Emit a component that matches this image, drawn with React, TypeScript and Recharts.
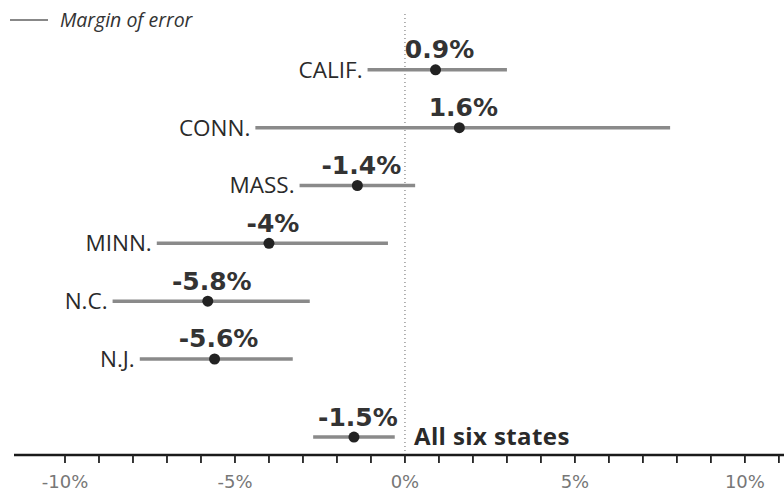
import React from 'react';
import {
  ScatterChart,
  Scatter,
  XAxis,
  YAxis,
  ZAxis,
  ErrorBar,
  LabelList,
  ReferenceLine,
} from 'recharts';

// rows, top to bottom
const states = ['CALIF.', 'CONN.', 'MASS.', 'MINN.', 'N.C.', 'N.J.', 'All six states'];
const values = [0.9, 1.6, -1.4, -4, -5.8, -5.6, -1.5];
const lows = [-1.1, -4.4, -3.1, -7.3, -8.6, -7.8, -2.7];
const highs = [3.0, 7.8, 0.3, -0.5, -2.8, -3.3, -0.3];
const rowPos = [1, 2, 3, 4, 5, 6, 7.35];

const tickValues = [-10, -9, -8, -7, -6, -5, -4, -3, -2, -1, 0, 1, 2, 3, 4, 5, 6, 7, 8, 9, 10, 11];

const points = states.map((name, i) => ({
  name,
  x: values[i],
  y: rowPos[i],
  err: [values[i] - lows[i], highs[i] - values[i]],
}));

// state names sit left of the error bar; the total row sits right of zero
const nameLabels = states.map((name, i) => {
  const total = i === states.length - 1;
  return { name, x: total ? 0 : lows[i], y: rowPos[i], total };
});

const NameLabel = (props: any) => {
  const { x, y, width, height, index } = props;
  const row = nameLabels[index];
  const cy = y + height / 2;
  if (row.total) {
    return (
      <text x={x + width / 2 + 9} y={cy + 8} fontSize={24} fontWeight={700} fill="#2a2a2a"
        fontFamily="'Open Sans', sans-serif" letterSpacing={0.4}>
        {row.name}
      </text>
    );
  }
  return (
    <text x={x + width / 2 - 5} y={cy + 8} textAnchor="end" fontSize={22.5} fill="#2a2a2a"
      fontFamily="'Open Sans', sans-serif">
      {row.name}
    </text>
  );
};

const ValueLabel = (props: any) => {
  const { x, y, width, value } = props;
  return (
    <text x={x + width / 2 + 4} y={y - 7} textAnchor="middle" fontSize={25} fontWeight={700}
      fill="#333" fontFamily="'DejaVu Sans', sans-serif">
      {`${value}%`}
    </text>
  );
};

const Dot = (props: any) => <circle cx={props.cx} cy={props.cy} r={5.5} fill="#222" />;

export default function App() {
  return (
    <div style={{ position: 'absolute', left: 0, top: 0, width: 784, height: 491, background: '#fff' }}>
      <div style={{ position: 'absolute', left: 10, top: 6, display: 'flex', alignItems: 'center',
        fontFamily: "'Open Sans', sans-serif", fontStyle: 'italic', fontSize: 19.5, color: '#333' }}>
        <span style={{ display: 'inline-block', width: 38, height: 2, background: '#888', marginRight: 12 }} />
        Margin of error
      </div>
      <ScatterChart width={784} height={491} margin={{ top: 12, right: 0, bottom: 0, left: 14 }}>
        <XAxis
          type="number"
          dataKey="x"
          domain={[-11.5, 11.15]}
          ticks={tickValues}
          tickFormatter={(v: number) => (v % 5 === 0 ? `${v}%` : '')}
          height={36}
          tickSize={8}
          tickMargin={12}
          axisLine={{ stroke: '#1a1a1a', strokeWidth: 2.5 }}
          tickLine={{ stroke: '#222', strokeWidth: 1.8 }}
          tick={{ fill: '#777', fontSize: 18, fontFamily: "'DejaVu Sans', sans-serif" }}
          allowDataOverflow
        />
        <YAxis type="number" dataKey="y" domain={[0, 7.66]} reversed hide />
        <ZAxis range={[100, 100]} />
        <ReferenceLine x={0} stroke="#999" strokeWidth={1.5} strokeDasharray="1 3" />
        <Scatter data={nameLabels} shape={() => <g />} isAnimationActive={false}>
          <LabelList dataKey="name" content={NameLabel} />
        </Scatter>
        <Scatter data={points} shape={Dot} isAnimationActive={false}>
          <ErrorBar dataKey="err" direction="x" width={0} stroke="#8a8a8a" strokeWidth={3.5} />
          <LabelList dataKey="x" content={ValueLabel} />
        </Scatter>
      </ScatterChart>
    </div>
  );
}
